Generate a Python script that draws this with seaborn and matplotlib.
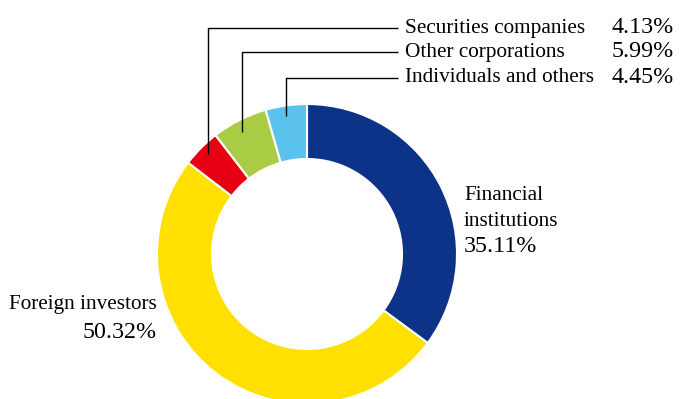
import matplotlib
matplotlib.use("Agg")
import matplotlib.pyplot as plt
import seaborn as sns

categories = ["Financial institutions", "Foreign investors", "Securities companies",
              "Other corporations", "Individuals and others"]
values = [35.11, 50.32, 4.13, 5.99, 4.45]
colors = ["#0C3387", "#FFE000", "#E60012", "#AACC44", "#5BC2EE"]

sns.set_theme(style="white")
plt.rcParams["font.family"] = ["Liberation Serif", "DejaVu Serif"]
plt.rcParams["text.color"] = "black"

W, H = 680, 399
fig = plt.figure(figsize=(W / 100, H / 100), dpi=100)
ax = fig.add_axes([0, 0, 1, 1])

cx, cy, R = 307, H - 254, 150
ax.pie(values, colors=colors, startangle=90, counterclock=False,
       center=(cx, cy), radius=R,
       wedgeprops=dict(width=55, edgecolor="white", linewidth=1.5))

ax.set_xlim(0, W)
ax.set_ylim(0, H)
ax.set_aspect("equal")
ax.axis("off")

fs = 15.3
fp = 17.3
def y(p):
    return H - p

# leader lines and labels for small slices
leaders = [
    (2, 208, 154, 28),
    (3, 242, 132, 52),
    (4, 286, 116, 78),
]
for idx, lx, ybot, ytop in leaders:
    ax.plot([lx, lx, 398], [y(ybot), y(ytop), y(ytop)], color="black", lw=1.0,
            solid_capstyle="butt")
    ax.text(405, y(ytop), categories[idx], fontsize=fs, ha="left", va="center", color="black")
    ax.text(674, y(ytop - 0.5), f"{values[idx]:.2f}%", fontsize=fp, ha="right", va="center", color="black")

# Financial institutions
ax.text(464, y(195), "Financial", fontsize=fs, ha="left", va="center", color="black")
ax.text(464, y(222), "institutions", fontsize=fs, ha="left", va="center", color="black")
ax.text(464, y(247), f"{values[0]:.2f}%", fontsize=fp, ha="left", va="center", color="black")

# Foreign investors
ax.text(157, y(305), "Foreign investors", fontsize=fs, ha="right", va="center", color="black")
ax.text(157, y(333), f"{values[1]:.2f}%", fontsize=fp, ha="right", va="center", color="black")

fig.savefig("out.png", dpi=100)
